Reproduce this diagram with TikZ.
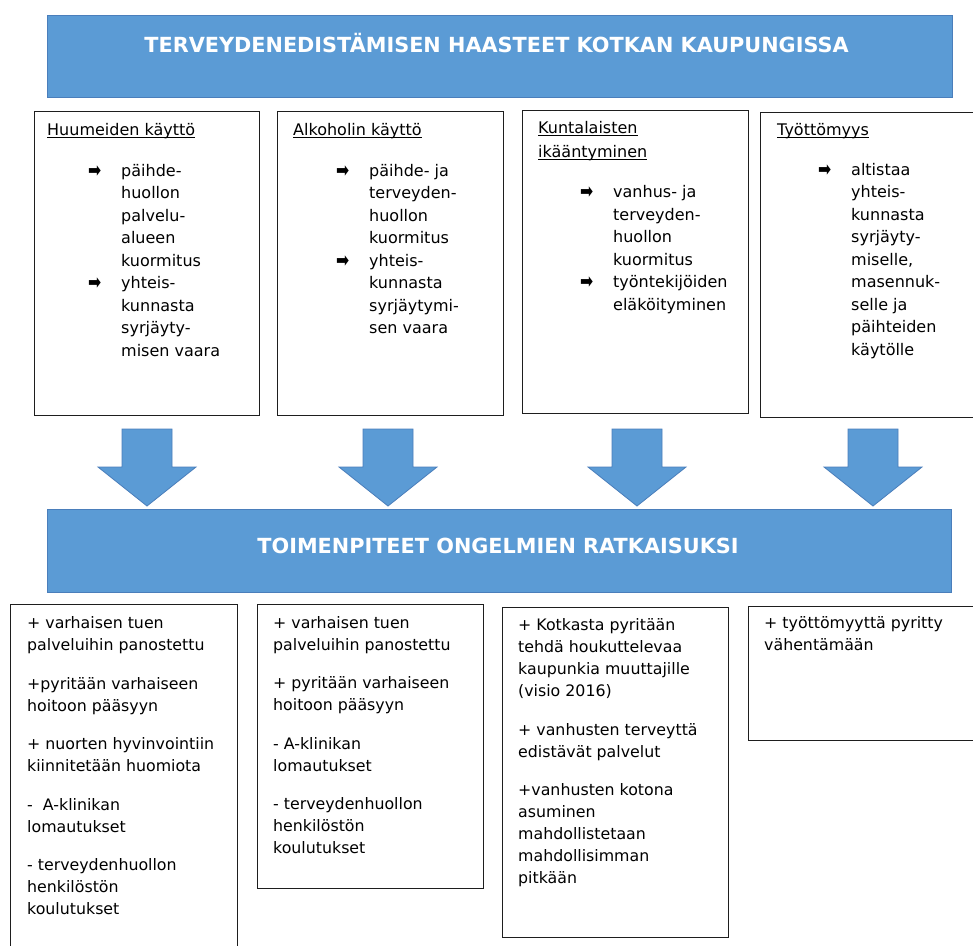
\documentclass[tikz,border=0pt]{standalone}
\usepackage{fontspec}
\setmainfont{DejaVu Sans}
\definecolor{blueFill}{HTML}{5B9BD5}
\definecolor{blueEdge}{HTML}{4A7EBB}
\definecolor{frameGray}{HTML}{1E1E1E}
% underlined heading with the rule close under the baseline
\newcommand\undl[1]{\setbox0\hbox{#1}\rlap{\rule[-2.8pt]{\wd0}{1.2pt}}\box0}
% heavy arrow bullet, fixed width so the text column lines up
\newcommand\arr{\makebox[33pt][l]{\raisebox{-1.2pt}{\scalebox{0.98}[1.3]{➡}}}}

\begin{document}
\begin{tikzpicture}[x=1pt,y=-1pt,
  banner/.style={draw=blueEdge,line width=1pt,fill=blueFill,anchor=north west,inner sep=0pt},
  bannertext/.style={anchor=base,text=white,inner sep=0pt,font=\fontsize{20.8}{24}\selectfont\bfseries},
  panel/.style={draw=frameGray,line width=1.4pt,anchor=north west,inner sep=0pt},
  headtext/.style={anchor=base west,inner sep=0pt,font=\fontsize{16}{24}\selectfont},
  bullets/.style={anchor=base west,inner sep=0pt,font=\fontsize{16}{22.5}\selectfont},
  notes/.style={anchor=base west,inner sep=0pt,font=\fontsize{15.8}{22}\selectfont},
  arrowbody/.style={fill=blueFill,draw=blueEdge,line width=0.8pt,line join=miter},
  downarrow/.pic={\draw[arrowbody] (-25,0) -- (25,0) -- (25,38) -- (49,38) -- (0,77)
                   -- (-49,38) -- (-25,38) -- cycle;}
]
\clip (0,0) rectangle (973,945);
\fill[white] (0,0) rectangle (973,945);

% ---- heading banner ----
\node[banner,minimum width=905pt,minimum height=82pt] (top) at (47,15) {};
\node[bannertext] (toptitle) at (496.5,52.5) {TERVEYDENEDISTÄMISEN HAASTEET KOTKAN KAUPUNGISSA};

% ---- challenge boxes ----
\node[panel,minimum width=225pt,minimum height=304pt] (c1) at (34,111) {};
\node[panel,minimum width=226pt,minimum height=304pt] (c2) at (277,111) {};
\node[panel,minimum width=226pt,minimum height=303pt] (c3) at (522,110) {};
\node[panel,minimum width=230pt,minimum height=305pt] (c4) at (760,112) {};

\node[headtext] (h1) at (47,135) {\undl{Huumeiden käyttö}};
\node[headtext] (h2) at (293,135) {\undl{Alkoholin käyttö}};
\node[headtext] (h3a) at (538,133.5) {\undl{Kuntalaisten}};
\node[headtext] (h3b) at (538,157.5) {\undl{ikääntyminen}};
\node[headtext] (h4) at (777,135) {\undl{Työttömyys}};

\node[bullets] (l1) at (88,176) {\begin{tabular}[t]{@{}l@{}l@{}}
  \arr & päihde-\\ & huollon\\ & palvelu-\\ & alueen\\ & kuormitus\\
  \arr & yhteis-\\ & kunnasta\\ & syrjäyty-\\ & misen vaara
\end{tabular}};
\node[bullets] (l2) at (336,176) {\begin{tabular}[t]{@{}l@{}l@{}}
  \arr & päihde- ja\\ & terveyden-\\ & huollon\\ & kuormitus\\
  \arr & yhteis-\\ & kunnasta\\ & syrjäytymi-\\ & sen vaara
\end{tabular}};
\node[bullets] (l3) at (580,197.5) {\begin{tabular}[t]{@{}l@{}l@{}}
  \arr & vanhus- ja\\ & terveyden-\\ & huollon\\ & kuormitus\\
  \arr & työntekijöiden\\ & eläköityminen
\end{tabular}};
\node[bullets] (l4) at (818,175) {\begin{tabular}[t]{@{}l@{}l@{}}
  \arr & altistaa\\ & yhteis-\\ & kunnasta\\ & syrjäyty-\\ & miselle,\\
       & masennuk-\\ & selle ja\\ & päihteiden\\ & käytölle
\end{tabular}};

% ---- block arrows into the measures banner ----
\pic (a1) at (147,429) {downarrow};
\pic (a2) at (388,429) {downarrow};
\pic (a3) at (637,429) {downarrow};
\pic (a4) at (873,429) {downarrow};

% ---- measures banner ----
\node[banner,minimum width=904pt,minimum height=83pt] (mid) at (47,509) {};
\node[bannertext] (midtitle) at (498,553.5) {TOIMENPITEET ONGELMIEN RATKAISUKSI};

% ---- measure boxes ----
\node[panel,minimum width=227pt,minimum height=360pt] (b1) at (10,604) {};
\node[panel,minimum width=226pt,minimum height=284pt] (b2) at (257,604) {};
\node[panel,minimum width=226pt,minimum height=330pt] (b3) at (502,607) {};
\node[panel,minimum width=240pt,minimum height=134pt] (b4) at (748,606) {};

\node[notes] (n1) at (27,628.5) {\begin{tabular}[t]{@{}l@{}}
  + varhaisen tuen\\ palveluihin panostettu\\[16.5pt]
  +pyritään varhaiseen\\ hoitoon pääsyyn\\[16.5pt]
  + nuorten hyvinvointiin\\ kiinnitetään huomiota\\[16.5pt]
  - \ A-klinikan\\ lomautukset\\[16.5pt]
  - terveydenhuollon\\ henkilöstön\\ koulutukset
\end{tabular}};
\node[notes] (n2) at (273,628) {\begin{tabular}[t]{@{}l@{}}
  + varhaisen tuen\\ palveluihin panostettu\\[16.5pt]
  + pyritään varhaiseen\\ hoitoon pääsyyn\\[16.5pt]
  - A-klinikan\\ lomautukset\\[16.5pt]
  - terveydenhuollon\\ henkilöstön\\ koulutukset
\end{tabular}};
\node[notes] (n3) at (518,630.5) {\begin{tabular}[t]{@{}l@{}}
  + Kotkasta pyritään\\ tehdä houkuttelevaa\\ kaupunkia muuttajille\\ (visio 2016)\\[16.5pt]
  + vanhusten terveyttä\\ edistävät palvelut\\[16.5pt]
  +vanhusten kotona\\ asuminen\\ mahdollistetaan\\ mahdollisimman\\ pitkään
\end{tabular}};
\node[notes] (n4) at (764,628.5) {\begin{tabular}[t]{@{}l@{}}
  + työttömyyttä pyritty\\ vähentämään
\end{tabular}};
\end{tikzpicture}
\end{document}
